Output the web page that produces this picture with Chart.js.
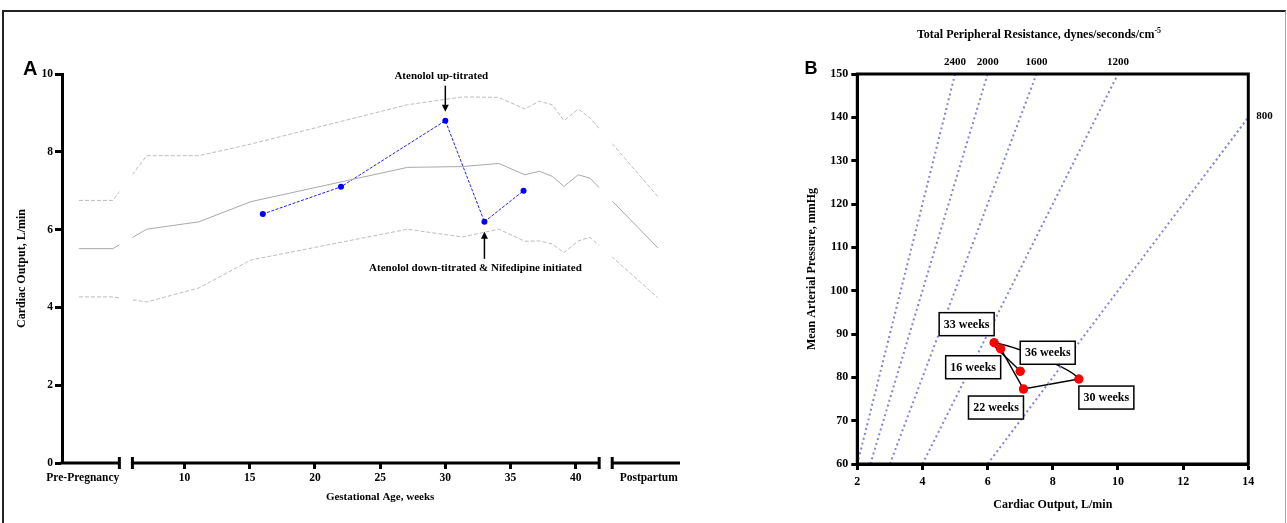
<!DOCTYPE html>
<html>
<head>
<meta charset="utf-8">
<script src="https://cdn.jsdelivr.net/npm/chart.js@4.4.1/dist/chart.umd.min.js"></script>
<style>
  html, body { margin: 0; padding: 0; background: #fff; }
  #page { position: relative; width: 1287px; height: 523px; overflow: hidden; }
  #frame { position: absolute; left: 2px; top: 10px; width: 1281px; height: 520px;
           border-top: 2px solid #222; border-left: 2px solid #222; border-right: 1px solid #aaa; }
  canvas { position: absolute; top: 0; }
  #chartA { left: 0; }
  #chartB { left: 700px; }
</style>
</head>
<body>
<div id="page">
  <div id="frame"></div>
  <canvas id="chartA" width="700" height="523"></canvas>
  <canvas id="chartB" width="587" height="523"></canvas>
</div>
<script>
const serif = '"Liberation Serif", "Times New Roman", serif';
const sans = '"Liberation Sans", Arial, sans-serif';

// Panel A - cardiac output across pregnancy
const visitWeeks = [16, 22, 30, 33, 36];
const cardiacOutput = [6.4, 7.1, 8.8, 6.2, 7.0];
const refWeeks = [1.9, 4.5, 7.1, 11.1, 15.1, 27.1, 31.3, 34.1, 36.1, 37.2, 38.2, 39.1, 40.2, 41.1, 46.3];
const refUpper = [6.75, 6.75, 7.9, 7.9, 8.2, 9.21, 9.41, 9.40, 9.10, 9.30, 9.21, 8.80, 9.10, 8.87, 6.85];
const refMean = [5.51, 5.51, 6.01, 6.20, 6.72, 7.60, 7.62, 7.70, 7.41, 7.50, 7.37, 7.11, 7.41, 7.32, 5.53];
const refLower = [4.27, 4.27, 4.14, 4.50, 5.22, 6.01, 5.81, 6.01, 5.70, 5.71, 5.63, 5.41, 5.71, 5.80, 4.25];
const gestTicks = [10, 15, 20, 25, 30, 35, 40];

// Panel B - MAP vs CO with TPR isolines
const meanArterialPressure = [86.6, 77.3, 79.6, 88.0, 81.4];
const visitLabels = ['16 weeks', '22 weeks', '30 weeks', '33 weeks', '36 weeks'];
const tprLabels = ['2400', '2000', '1600', '1200', '800'];
const tprStart = [[2, 60], [2.4, 60], [3, 60], [4, 60], [6, 60]];
const tprEnd = [[5, 150], [6, 150], [7.5, 150], [10, 150], [14, 140]];

// layout bits for panel A axis (where the side labels and breaks sit)
const prePregAt = 2.2, postpartumAt = 45.6;
const axisBreaks = [5.0, 6.0, 41.8, 42.8];

const xy = (xs, ys) => xs.map((x, i) => ({x: x, y: ys[i]}));
const bold = (size) => ({family: serif, size: size, weight: 'bold'});

function arrow(ctx, x, y0, y1) {
  // line from y0 to y1, head at y1
  const dir = y1 > y0 ? 1 : -1;
  ctx.beginPath();
  ctx.moveTo(x, y0);
  ctx.lineTo(x, y1 - dir * 6);
  ctx.lineWidth = 1.5;
  ctx.strokeStyle = '#000';
  ctx.stroke();
  ctx.beginPath();
  ctx.moveTo(x, y1);
  ctx.lineTo(x - 3.5, y1 - dir * 7);
  ctx.lineTo(x + 3.5, y1 - dir * 7);
  ctx.closePath();
  ctx.fillStyle = '#000';
  ctx.fill();
}

const panelA = {
  id: 'panelA',
  beforeDatasetsDraw(chart) {
    const {ctx, chartArea: a, scales: {x}} = chart;
    const e = [a.left].concat(axisBreaks.map(v => x.getPixelForValue(v)), [a.right]);
    ctx.save();
    ctx.beginPath();
    for (let i = 0; i < e.length; i += 2) ctx.rect(e[i], a.top - 10, e[i + 1] - e[i], a.bottom - a.top + 20);
    ctx.clip();
  },
  afterDatasetsDraw(chart) {
    const {ctx, chartArea: a, scales: {x, y}} = chart;
    ctx.restore();
    ctx.save();
    // broken x axis
    const b = axisBreaks.map(v => x.getPixelForValue(v));
    const y0 = a.bottom;
    ctx.strokeStyle = '#000';
    ctx.lineWidth = 3;
    ctx.beginPath();
    ctx.moveTo(a.left - 1.5, y0); ctx.lineTo(b[0], y0);
    ctx.moveTo(b[1], y0); ctx.lineTo(b[2], y0);
    ctx.moveTo(b[3], y0); ctx.lineTo(a.right, y0);
    b.forEach(px => { ctx.moveTo(px, y0 - 6); ctx.lineTo(px, y0 + 6); });
    ctx.stroke();

    // annotations
    const upX = x.getPixelForValue(visitWeeks[2]), upY = y.getPixelForValue(cardiacOutput[2]);
    arrow(ctx, upX, upY - 35, upY - 9);
    const dnX = x.getPixelForValue(visitWeeks[3]), dnY = y.getPixelForValue(cardiacOutput[3]);
    arrow(ctx, dnX, dnY + 37, dnY + 10);
    ctx.fillStyle = '#000';
    ctx.font = 'bold 11px ' + serif;
    ctx.textAlign = 'center';
    ctx.textBaseline = 'middle';
    ctx.fillText('Atenolol up-titrated', upX - 4, upY - 45);
    ctx.fillText('Atenolol down-titrated & Nifedipine initiated', dnX - 9, dnY + 46);

    // axis title sits under the 10-40 span
    ctx.font = 'bold 11px ' + serif;
    ctx.fillText('Gestational Age, weeks', x.getPixelForValue(25), 497);

    ctx.font = 'bold 20px ' + sans;
    ctx.textAlign = 'left';
    ctx.textBaseline = 'alphabetic';
    ctx.fillText('A', 23, 75);
    ctx.restore();
  }
};

new Chart(document.getElementById('chartA'), {
  type: 'line',
  data: {
    datasets: [
      { data: xy(refWeeks, refUpper), borderColor: '#bdbdbd', borderWidth: 1, borderDash: [4, 2], pointRadius: 0 },
      { data: xy(refWeeks, refMean), borderColor: '#a9a9a9', borderWidth: 1, pointRadius: 0 },
      { data: xy(refWeeks, refLower), borderColor: '#bdbdbd', borderWidth: 1, borderDash: [4, 2], pointRadius: 0 },
      { data: xy(visitWeeks, cardiacOutput), borderColor: '#1f1fff', borderWidth: 1, borderDash: [3, 1.5],
        pointRadius: 3, pointBackgroundColor: '#0000ff', pointBorderWidth: 0 }
    ]
  },
  options: {
    responsive: false,
    animation: false,
    plugins: { legend: { display: false }, tooltip: { enabled: false } },
    layout: { padding: { left: 0, right: 20, top: 74, bottom: 0 } },
    scales: {
      x: {
        type: 'linear', min: 0.6, max: 48,
        afterBuildTicks: s => { s.ticks = [prePregAt].concat(gestTicks, [postpartumAt]).map(v => ({value: v})); },
        afterFit: s => { s.height = 60; },
        border: { display: false },
        grid: { drawOnChartArea: false, tickLength: 6, tickWidth: 3,
                tickColor: c => (c.tick && gestTicks.includes(c.tick.value)) ? '#000' : 'rgba(0,0,0,0)' },
        ticks: { autoSkip: false, maxRotation: 0, padding: 2.5, color: '#000', font: bold(11.5),
                 callback: v => v === prePregAt ? 'Pre-Pregnancy' : (v === postpartumAt ? 'Postpartum' : v) }
      },
      y: {
        min: 0, max: 10,
        afterFit: s => { s.width = 62; },
        border: { display: true, width: 3, color: '#000' },
        grid: { drawOnChartArea: false, tickLength: 7, tickWidth: 3, tickColor: '#000' },
        ticks: { stepSize: 2, padding: 2, color: '#000', font: bold(11.5) },
        title: { display: true, text: 'Cardiac Output, L/min', color: '#000', font: bold(12), padding: { top: 15, bottom: 0 } }
      }
    }
  },
  plugins: [panelA]
});

// label boxes sit diagonally off each point
const boxDir = [[-1, 1], [-1, 1], [1, 1], [-1, -1], [1, -1]];

const panelB = {
  id: 'panelB',
  afterDatasetsDraw(chart) {
    const {ctx, chartArea: a, scales: {x, y}} = chart;
    ctx.save();
    // week label boxes
    ctx.font = 'bold 12px ' + serif;
    ctx.textAlign = 'center';
    ctx.textBaseline = 'middle';
    visitLabels.forEach((t, i) => {
      const px = x.getPixelForValue(cardiacOutput[i]), py = y.getPixelForValue(meanArterialPressure[i]);
      const cx = px + boxDir[i][0] * 27.5, cy = py + boxDir[i][1] * 18.5;
      ctx.fillStyle = '#fff';
      ctx.fillRect(cx - 27.5, cy - 11.5, 55, 23);
      ctx.strokeStyle = '#000';
      ctx.lineWidth = 1.5;
      ctx.strokeRect(cx - 27.5, cy - 11.5, 55, 23);
      ctx.fillStyle = '#000';
      ctx.fillText(t, cx, cy + 0.5);
    });
    // red points back on top of the boxes
    chart.getDatasetMeta(chart.data.datasets.length - 1).data.forEach(pt => {
      ctx.beginPath();
      ctx.arc(pt.x, pt.y, 4.5, 0, Math.PI * 2);
      ctx.fillStyle = '#ff0000';
      ctx.fill();
    });
    ctx.restore();
  },
  afterDraw(chart) {
    const {ctx, chartArea: a, scales: {x, y}} = chart;
    ctx.save();
    ctx.strokeStyle = '#000';
    ctx.lineWidth = 3;
    ctx.strokeRect(a.left, a.top, a.right - a.left, a.bottom - a.top);

    ctx.fillStyle = '#000';
    ctx.font = 'bold 11px ' + serif;
    ctx.textBaseline = 'alphabetic';
    tprLabels.forEach((t, i) => {
      const px = x.getPixelForValue(tprEnd[i][0]), py = y.getPixelForValue(tprEnd[i][1]);
      if (tprEnd[i][1] >= 150) {
        ctx.textAlign = 'center';
        ctx.fillText(t, px, 65);
      } else {
        ctx.textAlign = 'left';
        ctx.fillText(t, px + 8, py + 1.5);
      }
    });

    // top title with superscript
    const main = 'Total Peripheral Resistance, dynes/seconds/cm';
    ctx.font = 'bold 12px ' + serif;
    const w1 = ctx.measureText(main).width;
    ctx.font = 'bold 8px ' + serif;
    const w2 = ctx.measureText('-5').width;
    const sx = 339 - (w1 + w2) / 2;
    ctx.textAlign = 'left';
    ctx.font = 'bold 12px ' + serif;
    ctx.fillText(main, sx, 38);
    ctx.font = 'bold 8px ' + serif;
    ctx.fillText('-5', sx + w1, 33);

    ctx.font = 'bold 18px ' + sans;
    ctx.fillText('B', 104.5, 73.5);
    ctx.restore();
  }
};

const visitPoints = xy(cardiacOutput, meanArterialPressure);

new Chart(document.getElementById('chartB'), {
  type: 'scatter',
  data: {
    datasets: tprLabels.map((t, i) => ({
      type: 'line',
      data: [{x: tprStart[i][0], y: tprStart[i][1]}, {x: tprEnd[i][0], y: tprEnd[i][1]}],
      borderColor: '#8383d8', borderWidth: 2, borderDash: [2, 3], pointRadius: 0
    })).concat([{
      // 16 -> 22 -> 30 weeks, straight
      type: 'line',
      data: visitPoints.slice(0, 3),
      borderColor: '#000', borderWidth: 1.5, pointRadius: 0, tension: 0
    }, {
      // 30 -> 33 -> 36 weeks, curved (22 weeks only steers the curve)
      type: 'line',
      data: visitPoints.slice(1),
      borderColor: '#000', borderWidth: 1.5, pointRadius: 0, tension: 0.4,
      segment: { borderColor: c => c.p0DataIndex === 0 ? 'rgba(0,0,0,0)' : '#000' }
    }, {
      data: visitPoints,
      pointRadius: 4.5, backgroundColor: '#ff0000', borderWidth: 0
    }])
  },
  options: {
    responsive: false,
    animation: false,
    plugins: { legend: { display: false }, tooltip: { enabled: false } },
    layout: { padding: { left: 87.3, right: 38.7, top: 74, bottom: 0 } },
    scales: {
      x: {
        type: 'linear', min: 2, max: 14,
        afterFit: s => { s.height = 59; },
        border: { display: true, width: 3, color: '#000' },
        grid: { drawOnChartArea: false, tickLength: 6, tickWidth: 3, tickColor: '#000' },
        ticks: { stepSize: 2, padding: 5, color: '#000', font: bold(12) },
        title: { display: true, text: 'Cardiac Output, L/min', color: '#000', font: bold(12), padding: { top: 0, bottom: 11 } }
      },
      y: {
        min: 60, max: 150,
        afterFit: s => { s.width = 70; },
        border: { display: true, width: 3, color: '#000' },
        grid: { drawOnChartArea: false, tickLength: 6, tickWidth: 3, tickColor: '#000' },
        ticks: { stepSize: 10, padding: 3, color: '#000', font: bold(12) },
        title: { display: true, text: 'Mean Arterial Pressure, mmHg', color: '#000', font: bold(12), padding: { top: 17.5, bottom: 0 } }
      }
    }
  },
  plugins: [panelB]
});
</script>
</body>
</html>
